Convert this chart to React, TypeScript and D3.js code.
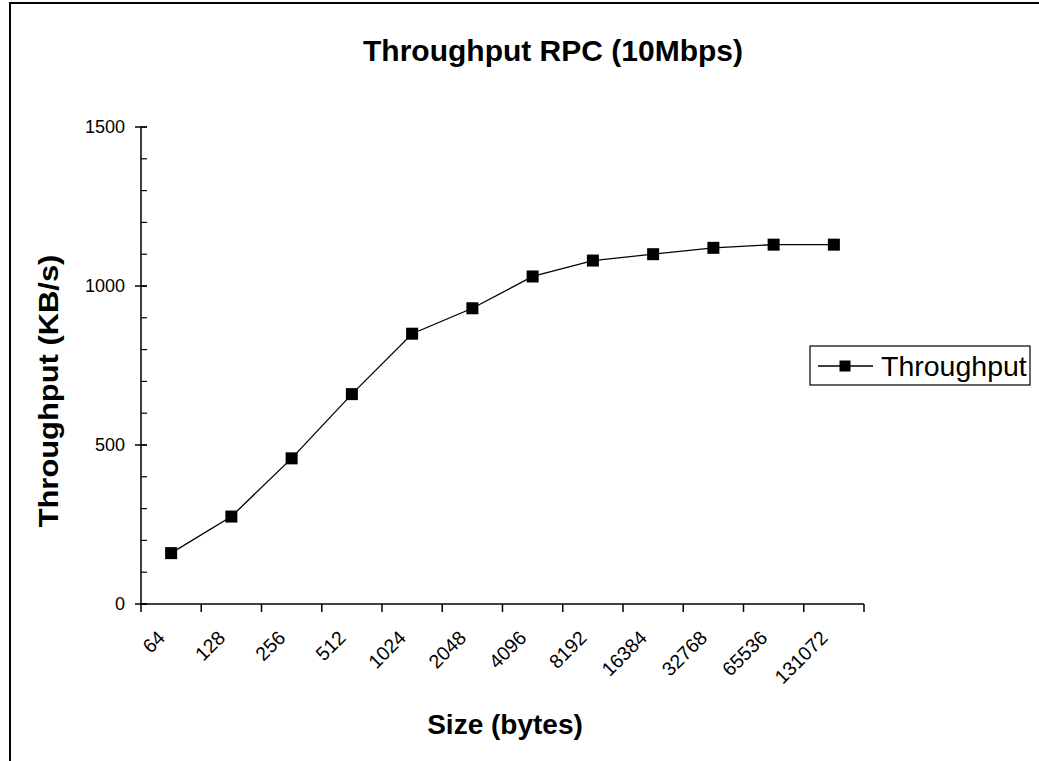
import React from "react";
import * as d3 from "d3";

// Message size categories (bytes) and measured throughput (KB/s)
const sizes: string[] = [
  "64", "128", "256", "512", "1024", "2048",
  "4096", "8192", "16384", "32768", "65536", "131072",
];
const throughput: number[] = [160, 275, 458, 660, 850, 930, 1030, 1080, 1100, 1120, 1130, 1130];
const majorTicks: number[] = [0, 500, 1000, 1500];
const minorTicks: number[] = d3.range(0, 1501, 100);

const W = 1039;
const H = 761;
const plot = { left: 141, right: 864, top: 127, bottom: 604 };
const FONT = "'Liberation Sans', Arial, sans-serif";

export default function App() {
  const x = d3.scaleBand<string>().domain(sizes).range([plot.left, plot.right]).padding(0);
  const y = d3.scaleLinear().domain([0, 1500]).range([plot.bottom, plot.top]);
  const cx = (s: string) => (x(s) ?? 0) + x.bandwidth() / 2;

  const pts = sizes.map((s, i) => [cx(s), y(throughput[i])] as [number, number]);
  const line = d3.line<[number, number]>()(pts) ?? "";
  const boundaries = sizes.map((s) => x(s) ?? 0).concat([plot.right]);
  const m = 12;

  return (
    <svg
      width={W}
      height={H}
      style={{ position: "absolute", left: 0, top: 0, background: "#fff" }}
      fontFamily={FONT}
    >
      <rect x={0} y={0} width={W} height={H} fill="#fff" />
      {/* chart frame */}
      <path d={`M10,${H} V3 H${W}`} fill="none" stroke="#000" strokeWidth={2} />

      <text x={553} y={61} textAnchor="middle" fontSize={30} fontWeight="bold">
        Throughput RPC (10Mbps)
      </text>

      {/* y axis */}
      <line x1={plot.left} x2={plot.left} y1={plot.top} y2={plot.bottom} stroke="#000" strokeWidth={1.5} />
      {minorTicks.map((t) => (
        <line key={"mn" + t} x1={plot.left} x2={plot.left + 6} y1={y(t)} y2={y(t)} stroke="#000" strokeWidth={1.2} />
      ))}
      {majorTicks.map((t) => (
        <g key={"mj" + t}>
          <line x1={plot.left - 6} x2={plot.left + 6} y1={y(t)} y2={y(t)} stroke="#000" strokeWidth={1.5} />
          <text x={plot.left - 16} y={y(t)} dy="0.36em" textAnchor="end" fontSize={18}>
            {t}
          </text>
        </g>
      ))}

      {/* x axis */}
      <line x1={plot.left} x2={plot.right} y1={plot.bottom} y2={plot.bottom} stroke="#000" strokeWidth={1.5} />
      {boundaries.map((b, i) => (
        <line key={"xt" + i} x1={b} x2={b} y1={plot.bottom} y2={plot.bottom + 8} stroke="#000" strokeWidth={1.5} />
      ))}
      {sizes.map((s) => (
        <text
          key={"xl" + s}
          transform={`translate(${cx(s) - 5},639) rotate(-45)`}
          textAnchor="end"
          fontSize={19.5}
        >
          {s}
        </text>
      ))}

      <text x={505} y={734} textAnchor="middle" fontSize={28} fontWeight="bold">
        Size (bytes)
      </text>
      <text
        transform="translate(58,391) rotate(-90) scale(1.03,0.9)"
        textAnchor="middle"
        fontSize={30}
        fontWeight="bold"
      >
        Throughput (KB/s)
      </text>

      {/* series */}
      <path d={line} fill="none" stroke="#000" strokeWidth={1.3} />
      {pts.map(([px, py], i) => (
        <rect key={"pt" + i} x={px - m / 2} y={py - m / 2} width={m} height={m} fill="#000" />
      ))}

      {/* legend */}
      <rect x={810} y={346} width={220} height={39} fill="#fff" stroke="#000" strokeWidth={1.2} />
      <line x1={818} x2={873} y1={366} y2={366} stroke="#000" strokeWidth={1.3} />
      <rect x={845 - 5.5} y={366 - 5.5} width={11} height={11} fill="#000" />
      <text x={881} y={376} fontSize={28.5}>
        Throughput
      </text>
    </svg>
  );
}
